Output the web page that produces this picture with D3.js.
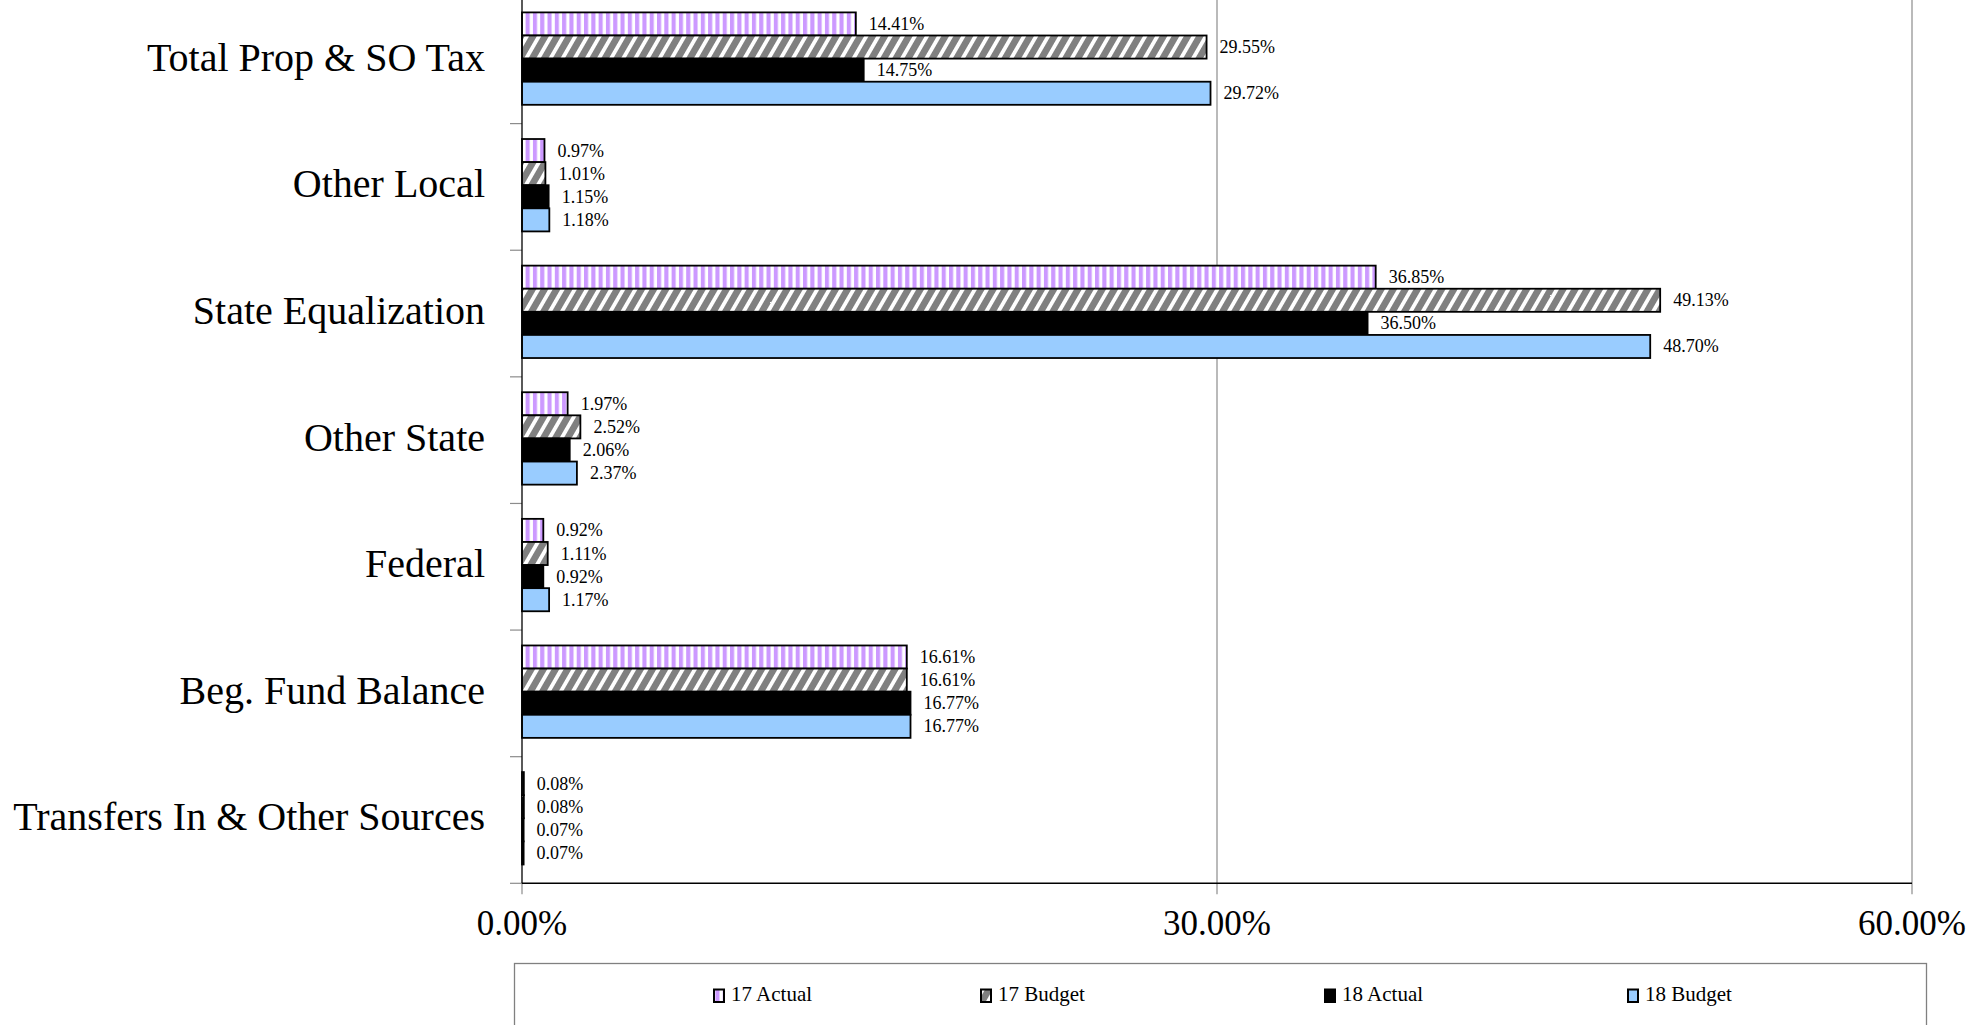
<!DOCTYPE html>
<html>
<head>
<meta charset="utf-8">
<script src="https://cdn.jsdelivr.net/npm/d3@7"></script>
<style>
  html, body { margin: 0; padding: 0; background: #fff; }
  svg { display: block; font-family: "Liberation Serif", "Times New Roman", serif; }
</style>
</head>
<body>
<svg id="chart" width="1988" height="1025"></svg>
<script>
// ---- data ----
const categories = ["Total Prop & SO Tax", "Other Local", "State Equalization", "Other State", "Federal", "Beg. Fund Balance", "Transfers In & Other Sources"];
const seriesNames = ["17 Actual", "17 Budget", "18 Actual", "18 Budget"];
const actual17 = [14.41, 0.97, 36.85, 1.97, 0.92, 16.61, 0.08];
const budget17 = [29.55, 1.01, 49.13, 2.52, 1.11, 16.61, 0.08];
const actual18 = [14.75, 1.15, 36.50, 2.06, 0.92, 16.77, 0.07];
const budget18 = [29.72, 1.18, 48.70, 2.37, 1.17, 16.77, 0.07];
const xTicks = [0, 30, 60];

const seriesValues = [actual17, budget17, actual18, budget18];

// ---- layout ----
const svg = d3.select("#chart");
const x0 = 522, x1 = 1912, yTop = -3, yBottom = 883.3;

const x = d3.scaleLinear().domain([0, 60]).range([x0, x1]);
const y = d3.scaleBand().domain(categories).range([yTop, yBottom]).paddingInner(0).paddingOuter(0);
const groupOffset = 15.4, groupHeight = 92.4;
const ySub = d3.scaleBand().domain(seriesNames).range([groupOffset, groupOffset + groupHeight]);

// ---- patterns ----
const defs = svg.append("defs");
const pv = defs.append("pattern").attr("id", "pat17a").attr("patternUnits", "userSpaceOnUse")
  .attr("width", 7.3).attr("height", 10);
pv.append("rect").attr("width", 7.3).attr("height", 10).attr("fill", "#ffffff");
pv.append("rect").attr("x", 0).attr("width", 4.1).attr("height", 10).attr("fill", "#cc99ff");

const pd = defs.append("pattern").attr("id", "pat17b").attr("patternUnits", "userSpaceOnUse")
  .attr("width", 10.5).attr("height", 10).attr("patternTransform", "rotate(30)");
pd.append("rect").attr("width", 10.5).attr("height", 10).attr("fill", "#808080");
pd.append("rect").attr("x", 0).attr("width", 3.8).attr("height", 10).attr("fill", "#ffffff");

const fills = {"17 Actual": "url(#pat17a)", "17 Budget": "url(#pat17b)", "18 Actual": "#000000", "18 Budget": "#99ccff"};

// ---- gridlines & ticks ----
const grid = svg.append("g");
xTicks.forEach(t => {
  if (t === 0) return;
  grid.append("line").attr("x1", x(t)).attr("x2", x(t)).attr("y1", 0).attr("y2", yBottom + 11)
    .attr("stroke", "#8c8c8c").attr("stroke-width", 1.2);
});
grid.append("line").attr("x1", x(0)).attr("x2", x(0)).attr("y1", yBottom).attr("y2", yBottom + 11)
  .attr("stroke", "#8c8c8c").attr("stroke-width", 1.2);
for (let k = 1; k <= categories.length; k++) {
  const yy = yTop + k * y.step();
  grid.append("line").attr("x1", x0 - 12).attr("x2", x0).attr("y1", yy).attr("y2", yy)
    .attr("stroke", "#8c8c8c").attr("stroke-width", 1.2);
}

// ---- bars ----
const barsG = svg.append("g");
const labelsG = svg.append("g");
seriesNames.forEach((s, si) => {
  const vals = seriesValues[si];
  categories.forEach((c, ci) => {
    const v = vals[ci];
    const by = y(c) + ySub(s);
    barsG.append("rect")
      .attr("x", x(0)).attr("y", by)
      .attr("width", x(v) - x(0)).attr("height", ySub.bandwidth())
      .attr("fill", fills[s]).attr("stroke", "#000").attr("stroke-width", 1.8);
    labelsG.append("text")
      .attr("x", x(v) + 13).attr("y", by + ySub.bandwidth() / 2 + 6)
      .attr("font-size", 18).attr("fill", "#000")
      .text(v.toFixed(2) + "%");
  });
});

// ---- axes lines ----
svg.append("line").attr("x1", x0).attr("x2", x0).attr("y1", 0).attr("y2", yBottom)
  .attr("stroke", "#000").attr("stroke-width", 1.3);
svg.append("line").attr("x1", x0).attr("x2", x1).attr("y1", yBottom).attr("y2", yBottom)
  .attr("stroke", "#000").attr("stroke-width", 1.5);

// ---- category labels ----
svg.append("g").selectAll("text").data(categories).join("text")
  .attr("x", 485).attr("y", d => y(d) + y.bandwidth() / 2 + 10.5)
  .attr("text-anchor", "end").attr("font-size", 40).attr("fill", "#000")
  .text(d => d);

// ---- x tick labels ----
svg.append("g").selectAll("text").data(xTicks).join("text")
  .attr("x", d => x(d)).attr("y", 935)
  .attr("text-anchor", "middle").attr("font-size", 35).attr("fill", "#000")
  .text(d => d.toFixed(2) + "%");

// ---- legend ----
const lg = svg.append("g");
lg.append("rect").attr("x", 514.5).attr("y", 963.5).attr("width", 1412).attr("height", 100)
  .attr("fill", "none").attr("stroke", "#808080").attr("stroke-width", 1.3);
const legendX = [713, 980, 1324, 1627];
seriesNames.forEach((s, i) => {
  lg.append("rect").attr("x", legendX[i] + 1).attr("y", 989.5).attr("width", 10).attr("height", 12.5)
    .attr("fill", fills[s]).attr("stroke", "#000").attr("stroke-width", 2);
  lg.append("text").attr("x", legendX[i] + 18).attr("y", 1000.5)
    .attr("font-size", 21).attr("fill", "#000").text(s);
});
</script>
</body>
</html>
